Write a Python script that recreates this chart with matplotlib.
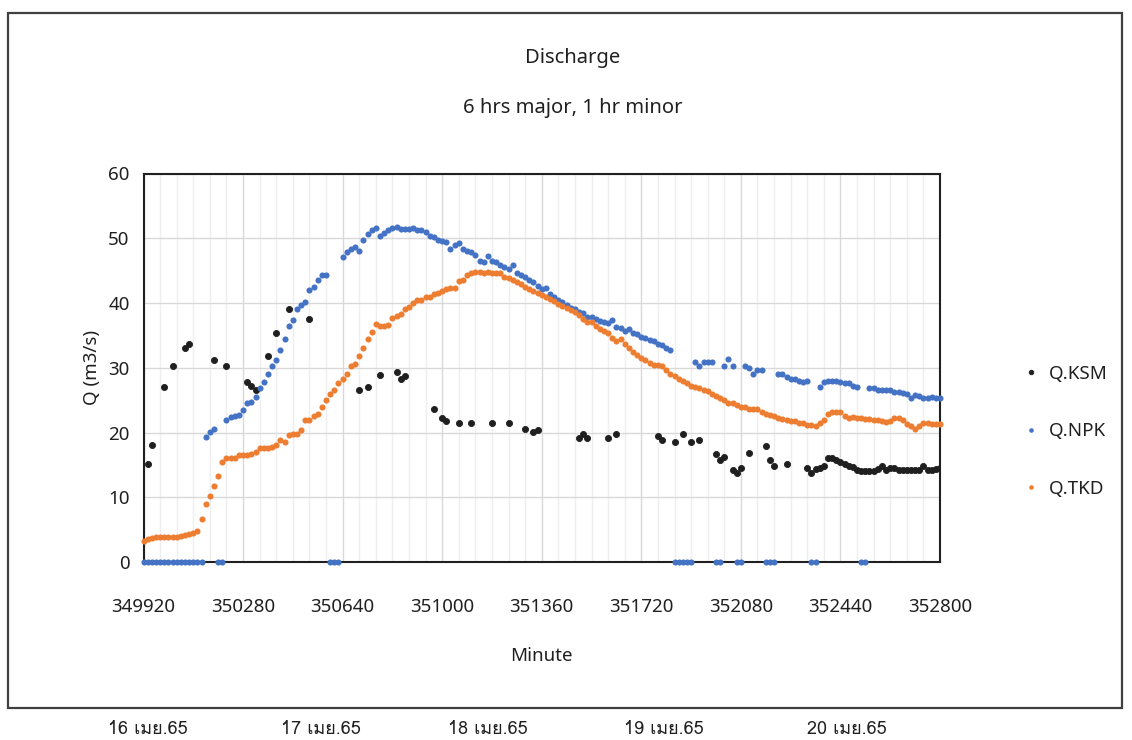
import numpy as np
import matplotlib
matplotlib.use("Agg")
import matplotlib.pyplot as plt
from matplotlib.patches import Rectangle
from matplotlib import font_manager as fm
from matplotlib.ft2font import FT2Font

# ---------------- data ----------------
minutes = list(range(349920, 352801, 15))

q_tkd = [3.3, 3.6, 3.7, 3.8, 3.8, 3.8, 3.8, 3.9, 3.9, 4.0,
         4.2, 4.3, 4.5, 4.8, 6.7, 8.9, 10.2, 11.7, 13.3, 15.4,
         16.0, 16.0, 16.1, 16.6, 16.6, 16.6, 16.7, 17.0, 17.6, 17.6,
         17.6, 17.7, 18.0, 18.8, 18.6, 19.6, 19.7, 19.7, 20.4, 21.9,
         21.9, 22.6, 22.8, 24.0, 25.0, 25.9, 26.5, 27.6, 28.2, 29.0,
         30.3, 30.6, 31.8, 33.1, 34.5, 35.5, 36.7, 36.4, 36.4, 36.6,
         37.7, 38.0, 38.3, 39.0, 39.4, 40.0, 40.4, 40.5, 40.9, 41.0,
         41.4, 41.5, 41.9, 42.1, 42.3, 42.3, 43.4, 43.6, 44.3, 44.7,
         44.8, 44.8, 44.7, 44.8, 44.7, 44.6, 44.6, 44.0, 43.8, 43.5,
         43.2, 42.9, 42.5, 42.1, 41.9, 41.6, 41.3, 41.0, 40.6, 40.3,
         39.9, 39.6, 39.2, 38.9, 38.6, 38.2, 37.6, 37.1, 37.0, 36.4,
         36.0, 35.6, 35.3, 34.6, 34.2, 34.4, 33.6, 33.0, 32.4, 31.9,
         31.5, 31.2, 30.7, 30.4, 30.4, 30.3, 29.6, 29.1, 28.8, 28.3,
         28.0, 27.6, 27.2, 27.0, 26.8, 26.6, 26.4, 26.0, 25.6, 25.4,
         25.0, 24.6, 24.5, 24.3, 24.0, 23.9, 23.7, 23.7, 23.6, 23.1,
         22.9, 22.7, 22.5, 22.3, 22.1, 21.9, 21.8, 21.7, 21.5, 21.4,
         21.2, 21.1, 21.0, 21.5, 22.0, 22.9, 23.1, 23.2, 23.1, 22.5,
         22.2, 22.4, 22.2, 22.2, 22.1, 22.1, 22.0, 21.9, 21.7, 21.6,
         21.7, 22.2, 22.2, 21.9, 21.3, 21.0, 20.6, 21.0, 21.5, 21.5,
         21.3, 21.3, 21.3]

q_npk = [0, 0, 0, 0, 0, 0, 0, 0, 0, 0,
         0, 0, 0, 0, 0, 19.3, 20.1, 20.5, 0, 0,
         21.9, 22.4, 22.6, 22.7, 23.4, 24.5, 24.7, 25.5, 26.8, 27.8,
         29.0, 30.2, 31.2, 32.7, 34.5, 36.4, 37.3, 39.1, 39.7, 40.2,
         42.0, 42.5, 43.5, 44.4, 44.4, 0, 0, 0, 47.1, 47.9,
         48.3, 48.6, 48.0, 49.7, 50.7, 51.2, 51.6, 50.4, 50.8, 51.2,
         51.6, 51.8, 51.4, 51.5, 51.5, 51.6, 51.3, 51.2, 50.9, 50.4,
         50.2, 49.7, 49.6, 49.4, 48.4, 49.0, 49.2, 48.4, 48.1, 47.8,
         47.4, 46.5, 46.3, 47.2, 46.5, 46.3, 45.8, 45.6, 45.2, 45.8,
         44.6, 44.3, 44.0, 43.6, 43.3, 42.7, 42.2, 42.3, 41.4, 40.9,
         40.4, 40.2, 39.7, 39.3, 39.0, 38.6, 38.5, 37.9, 37.8, 37.6,
         37.2, 37.0, 36.9, 37.3, 36.3, 36.2, 35.6, 36.0, 35.3, 35.2,
         34.8, 34.6, 34.3, 34.2, 33.7, 33.5, 33.0, 32.7, 0, 0,
         0, 0, 0, 30.9, 30.3, 30.9, 30.9, 30.9, 0, 0,
         30.2, 31.3, 30.2, 0, 0, 30.2, 30.0, 29.0, 29.6, 29.6,
         0, 0, 0, 29.0, 29.0, 28.5, 28.3, 28.3, 27.9, 27.8,
         28.0, 0, 0, 27.1, 27.8, 28.0, 28.0, 28.0, 27.8, 27.7,
         27.7, 27.2, 27.0, 0, 0, 26.8, 26.8, 26.6, 26.5, 26.5,
         26.5, 26.3, 26.3, 26.1, 25.9, 25.3, 25.8, 25.6, 25.4, 25.4,
         25.5, 25.4, 25.3]

ksm_minutes = [349935, 349950, 349995, 350025, 350070, 350085, 350175, 350220,
               350295, 350310, 350325, 350370, 350400, 350445, 350520, 350700,
               350730, 350775, 350835, 350850, 350865, 350970, 351000, 351015,
               351060, 351105, 351180, 351240, 351300, 351330, 351345, 351495,
               351510, 351525, 351600, 351630, 351780, 351795, 351840, 351870,
               351900, 351930, 351990, 352005, 352020, 352050, 352065, 352080,
               352110, 352170, 352185, 352200, 352245,
               352320, 352335, 352350, 352365, 352380, 352395, 352410, 352425,
               352440, 352455, 352470, 352485, 352500, 352515, 352530, 352545,
               352560, 352575, 352590, 352605, 352620, 352635, 352650, 352665,
               352680, 352695, 352710, 352725, 352740, 352755, 352770, 352785,
               352800]
q_ksm = [15.1, 18.1, 27.1, 30.2, 33.0, 33.6, 31.2, 30.2,
         27.8, 27.2, 26.5, 31.8, 35.4, 39.1, 37.6, 26.5,
         27.1, 28.9, 29.3, 28.3, 28.7, 23.7, 22.2, 21.8,
         21.5, 21.5, 21.5, 21.5, 20.6, 20.1, 20.4, 19.2,
         19.7, 19.2, 19.1, 19.7, 19.4, 18.8, 18.5, 19.8,
         18.5, 18.8, 16.7, 15.7, 16.2, 14.2, 13.8, 14.5,
         16.9, 17.9, 15.7, 14.8, 15.1,
         14.5, 13.8, 14.3, 14.5, 14.8, 16.0, 16.1, 15.8,
         15.5, 15.2, 14.8, 14.6, 14.2, 14.1, 14.1, 14.1,
         14.1, 14.4, 14.8, 14.2, 14.5, 14.5, 14.2, 14.2,
         14.2, 14.2, 14.2, 14.2, 14.8, 14.2, 14.2, 14.3,
         14.5]

series_names = ["Q.KSM", "Q.NPK", "Q.TKD"]
series_colors = ["#1f1f1f", "#4472C4", "#ED7D31"]
x_ticks = list(range(349920, 352801, 360))
date_labels = ["16 เมย.65", "17 เมย.65", "18 เมย.65", "19 เมย.65", "20 เมย.65"]
date_label_x = [148, 321, 488, 664, 847]

# ---------------- fonts ----------------
base_font = "Noto Sans"
thai_family = None
for f in fm.fontManager.ttflist:
    try:
        if 0x0E40 in FT2Font(f.fname).get_charmap():
            thai_family = f.name
            break
    except Exception:
        pass
plt.rcParams["font.family"] = [base_font, "DejaVu Sans"]

W, H = 1132, 740
fig = plt.figure(figsize=(W / 100, H / 100), dpi=100)
L, R, T, B = 143.5, 940, 173.5, 562
ax = fig.add_axes([L / W, 1 - B / H, (R - L) / W, (B - T) / H])

ms = 4.4
ax.plot(ksm_minutes, q_ksm, "o", ms=ms, color=series_colors[0], mec=series_colors[0],
        mew=0.6, label=series_names[0], zorder=3)
ax.plot(minutes, q_npk, "o", ms=ms, color=series_colors[1], mec=series_colors[1],
        mew=0.0, label=series_names[1], zorder=4, clip_on=False)
ax.plot(minutes, q_tkd, "o", ms=ms, color=series_colors[2], mec=series_colors[2],
        mew=0.0, label=series_names[2], zorder=5, clip_on=False)

ax.set_xlim(349920, 352800)
ax.set_ylim(0, 60)
ax.set_xticks(x_ticks)
ax.set_xticks(list(range(349920, 352801, 60)), minor=True)
ax.set_yticks(range(0, 61, 10))
ax.grid(which="major", axis="both", color="#d9d9d9", lw=1.0, zorder=0)
ax.grid(which="minor", axis="x", color="#efefef", lw=1.0, zorder=0)
ax.set_axisbelow(True)
ax.tick_params(which="both", length=0, labelsize=13.5, labelcolor="#202020")
ax.tick_params(axis="x", pad=26)
ax.tick_params(axis="y", pad=10)
for s in ax.spines.values():
    s.set_color("#202020")
    s.set_linewidth(1.5)

ax.set_xlabel("Minute", fontsize=13.5, color="#202020", labelpad=22)
ax.set_ylabel("Q (m3/s)", fontsize=13.5, color="#202020", labelpad=5)

fig.text(573 / W, 1 - 58 / H, "Discharge", ha="center", va="center", fontsize=14.5, color="#202020")
fig.text(573 / W, 1 - 108 / H, "6 hrs major, 1 hr minor", ha="center", va="center",
         fontsize=14.5, color="#202020")

leg = fig.legend(loc="upper left", bbox_to_anchor=(1008 / W, 1 - 348 / H), frameon=False,
                 fontsize=13.5, handlelength=0.6, handletextpad=0.7, labelspacing=2.1,
                 markerscale=0.75)
for t in leg.get_texts():
    t.set_color("#202020")

fig.patches.append(Rectangle((8 / W, 1 - 708 / H), (1122 - 8) / W, (708 - 13) / H,
                             transform=fig.transFigure, fill=False, edgecolor="#404040", lw=1.6))

fam = [thai_family, base_font, "DejaVu Sans"] if thai_family else [base_font, "DejaVu Sans"]
for lbl, xp in zip(date_labels, date_label_x):
    fig.text(xp / W, 1 - 729 / H, lbl, ha="center", va="center", fontsize=13,
             color="#202020", family=fam)

fig.savefig("out.png", dpi=100)
